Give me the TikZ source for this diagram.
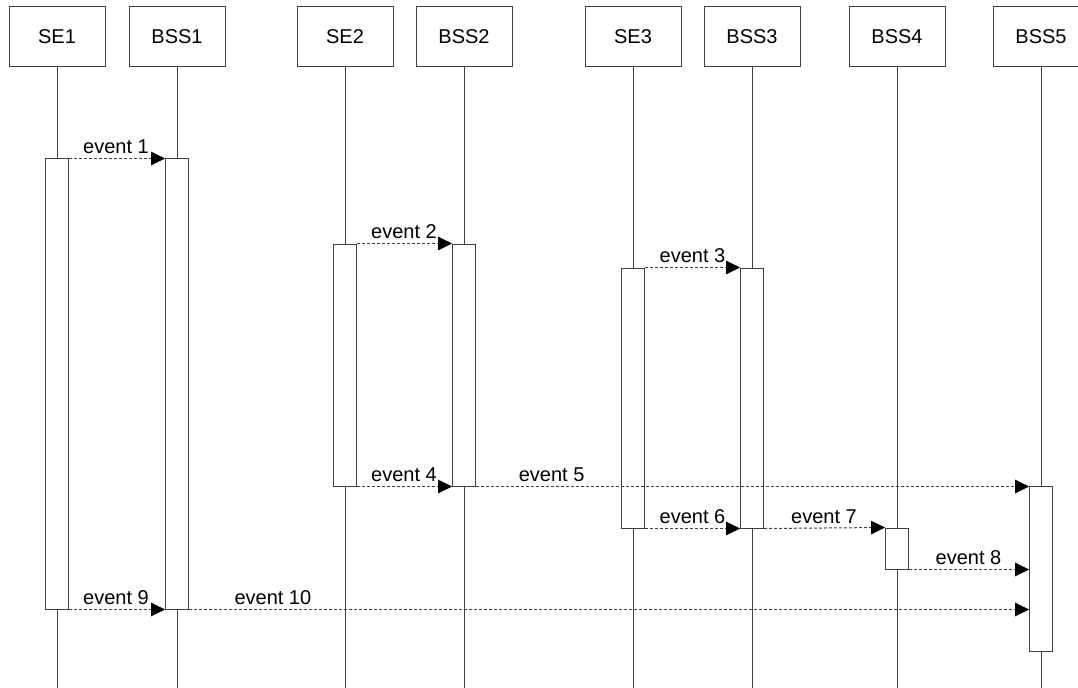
\documentclass[tikz,border=0pt]{standalone}
\usepackage{fontspec}
\setmainfont{Liberation Sans}
\usetikzlibrary{arrows.meta}
\begin{document}
\begin{tikzpicture}[x=0.75pt,y=-0.75pt,
  head/.style={draw=black!75,line width=0.75pt,minimum width=72pt,minimum height=45pt,inner sep=0pt,font=\fontsize{15}{18}\selectfont},
  life/.style={draw=black!75,line width=0.75pt},
  actbar/.style={draw=black!75,fill=white,line width=0.75pt,minimum width=17pt,inner sep=0pt},
  msg/.style={draw=black!75,line width=0.75pt,dash pattern=on 2.25pt off 1.5pt,-{Triangle[length=10.5pt,width=10pt,color=black,fill=black]}},
  lab/.style={font=\fontsize{15}{18}\selectfont,anchor=base,inner sep=0pt,yshift=3.75pt}]
\useasboundingbox (0,0) rectangle (1078,688);
\clip (0,0) rectangle (1078,688);
\fill[white] (0,0) rectangle (1078,688);
% header boxes
\foreach \n/\t/\x in {se1/SE1/57,bss1/BSS1/177,se2/SE2/345,bss2/BSS2/464,se3/SE3/633,bss3/BSS3/752,bss4/BSS4/897,bss5/BSS5/1041}{
  \node[head] (\n) at (\x,37) {\t};
  \coordinate (\n end) at (\x,690);
  \draw[life] (\n.south) -- (\n end);
}
% activation bars
\node[actbar,minimum height=337.5pt] (se1a) at (57,384) {};
\node[actbar,minimum height=337.5pt] (bss1a) at (177,384) {};
\node[actbar,minimum height=181.5pt] (se2a) at (345,365) {};
\node[actbar,minimum height=181.5pt] (bss2a) at (464,365) {};
\node[actbar,minimum height=195pt] (se3a) at (633,398) {};
\node[actbar,minimum height=195pt] (bss3a) at (752,398) {};
\node[actbar,minimum height=30.75pt] (bss4a) at (897,548.5) {};
\node[actbar,minimum height=123.75pt] (bss5a) at (1041,568.5) {};
% messages
\draw[msg] (se1a.north east) -- node[lab,pos=0.49] {event 1} (bss1a.north west);
\draw[msg] (se2a.north east) -- node[lab,pos=0.495] {event 2} (bss2a.north west);
\draw[msg] (se3a.north east) -- node[lab,pos=0.5] {event 3} (bss3a.north west);
\draw[msg] (se2a.south east) -- node[lab,pos=0.495] {event 4} (bss2a.south west);
\draw[msg] (bss2a.south east) -- node[lab,pos=0.137] {event 5} (bss2a.south east -| bss5a.west);
\draw[msg] (se3a.south east) -- node[lab,pos=0.5] {event 6} (bss3a.south west);
\draw[msg] (bss3a.south east) -- node[lab,pos=0.496] {event 7} (bss4a.north west);
\draw[msg] (bss4a.south east) -- node[lab,pos=0.496] {event 8} (bss4a.south east -| bss5a.west);
\draw[msg] (se1a.south east) -- node[lab,pos=0.49] {event 9} (bss1a.south west);
\draw[msg] (bss1a.south east) -- node[lab,pos=0.1] {event 10} (bss1a.south east -| bss5a.west);
\end{tikzpicture}
\end{document}
